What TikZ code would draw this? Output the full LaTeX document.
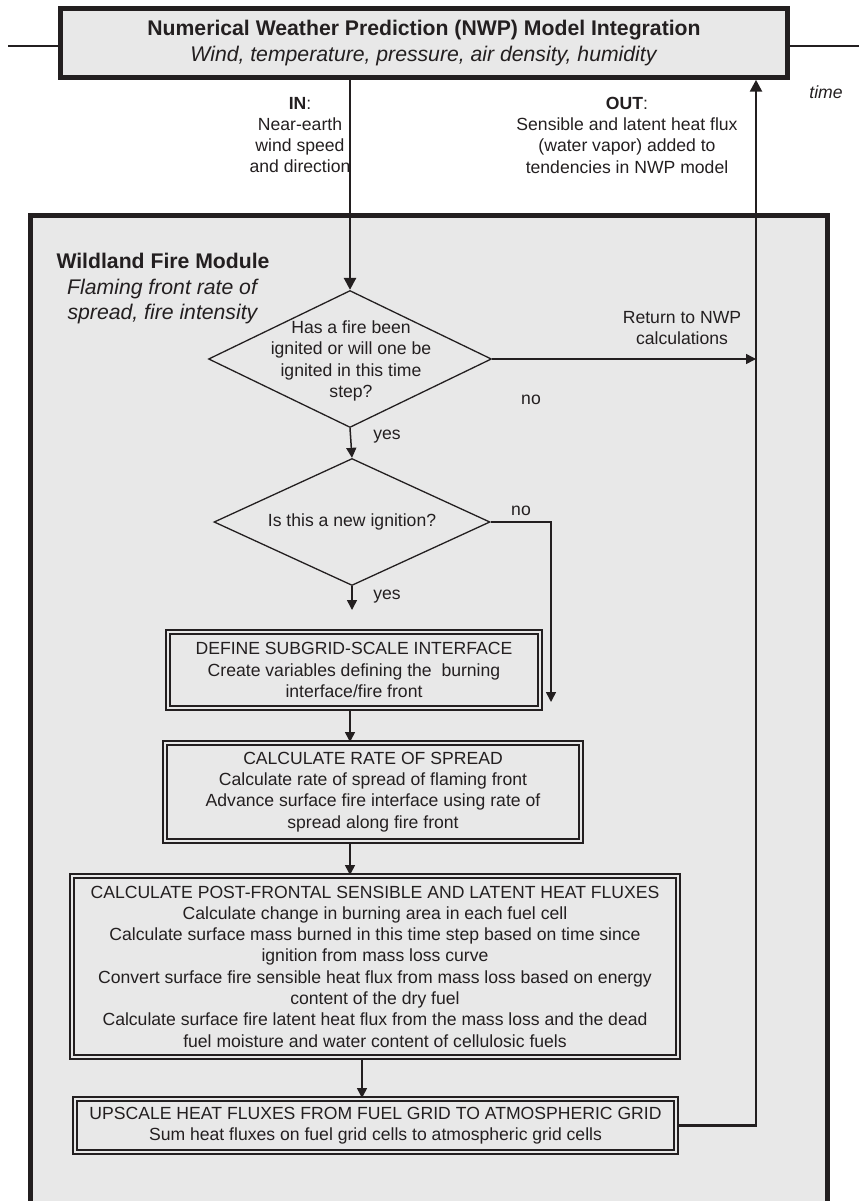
\documentclass[tikz,border=0pt]{standalone}
\usepackage{fontspec}
\setmainfont{Liberation Sans}
\usepackage{tikz}
\usetikzlibrary{calc}
\usetikzlibrary{arrows.meta}
\usetikzlibrary{shapes.geometric}

\definecolor{inkline}{HTML}{231F20}
\definecolor{panelgray}{HTML}{E8E8E8}

\newcommand{\bodyfont}{\fontsize{17.6}{21.3}\selectfont}
\newcommand{\headfont}{\fontsize{21.2}{25.5}\selectfont}

\begin{document}
\begin{tikzpicture}[x=1pt, y=-1pt,
		every node/.style={text=inkline, font=\bodyfont},
		lbl/.style={align=center, inner sep=0pt},
		flowbox/.style={draw=inkline, double=panelgray, double distance=1.7pt, line width=2pt, align=center, inner sep=0pt},
		decision/.style={diamond, draw=inkline, line width=1.3pt, inner sep=0pt},
		thinflow/.style={draw=inkline, line width=1.5pt, -{Triangle[length=10pt, width=10pt]}},
		thickflow/.style={draw=inkline, line width=2.6pt, -{Triangle[length=12pt, width=12pt]}}]
			\useasboundingbox (0,0) rectangle (859,1201);

			\fill[panelgray] (30.5,215.5) rectangle (827.5,1201);
			\draw[inkline, line width=5pt] (30.5,1201)--(30.5,215.5)--(827.5,215.5)--(827.5,1201);

			\node[draw=inkline, fill=panelgray, line width=4.5pt, minimum width=727pt, minimum height=69pt, lbl, font=\headfont] (nwp) at (424,43) {\textbf{Numerical Weather Prediction (NWP) Model Integration}\\\textit{Wind, temperature, pressure, air density, humidity}};
			\coordinate (timeleft) at (8,46);
			\coordinate (timeright) at (859,46);
			\draw[inkline, line width=2.5pt] (timeleft)--(timeleft -| nwp.west);
			\draw[inkline, line width=2.5pt] (nwp.east |- timeright)--(timeright);
			\node[lbl, font=\bodyfont\itshape] (timelbl) at (826,92) {time};

			\node[lbl] (inlbl) at (300,135) {\textbf{IN}:\\Near-earth\\wind speed\\and direction};
			\node[lbl] (outlbl) at (627,135) {\textbf{OUT}:\\Sensible and latent heat flux\\(water vapor) added to\\tendencies in NWP model};

			\node[lbl, font=\headfont] (wfm) at (163,289) {\textbf{Wildland Fire Module}\\\textit{Flaming front rate of}\\\textit{spread, fire intensity}};

			\node[decision, minimum width=283pt, minimum height=137pt] (ask) at (350,359) {};
			\node[lbl] (asktxt) at (351,361) {Has a fire been\\ignited or will one be\\ignited in this time\\step?};
			\node[decision, aspect=2.17, minimum width=276pt, minimum height=127pt] (newig) at (352,522) {Is this a new ignition?};

			\node[flowbox, minimum width=372pt, minimum height=76pt] (define) at (354,670) {DEFINE SUBGRID-SCALE INTERFACE\\Create variables defining the\ \ burning\\interface/fire front};
			\node[flowbox, minimum width=416pt, minimum height=98pt] (rate) at (373,792) {CALCULATE RATE OF SPREAD\\Calculate rate of spread of flaming front\\Advance surface fire interface using rate of\\spread along fire front};
			\node[flowbox, minimum width=606pt, minimum height=181pt] (flux) at (375,966.5) {CALCULATE POST-FRONTAL SENSIBLE AND LATENT HEAT FLUXES\\Calculate change in burning area in each fuel cell\\Calculate surface mass burned in this time step based on time since\\ignition from mass loss curve\\Convert surface fire sensible heat flux from mass loss based on energy\\content of the dry fuel\\Calculate surface fire latent heat flux from the mass loss and the dead\\fuel moisture and water content of cellulosic fuels};
			\node[flowbox, minimum width=601pt, minimum height=53pt] (up) at (375.5,1125.5) {UPSCALE HEAT FLUXES FROM FUEL GRID TO ATMOSPHERIC GRID\\Sum heat fluxes on fuel grid cells to atmospheric grid cells};

			\coordinate (outx) at (756,1127);
			\coordinate (deftop) at (352,610);
			\coordinate (noend) at (551,702);
			\coordinate (fluxaxis) at (362,0);

			\draw[thickflow] (nwp.south -| ask.north)--(ask.north);
			\draw[thickflow] (up.east) -| (nwp.south -| outx);
			\draw[thinflow] (ask.east)--(ask.east -| outx);
			\draw[thinflow] (ask.south)--(newig.north);
			\draw[thinflow] (newig.south)--(deftop);
			\draw[thinflow] (newig.east) -| (noend);
			\draw[thinflow] (define.south -| ask.south)--(rate.north -| ask.south);
			\draw[thinflow] (rate.south -| ask.south)--(flux.north -| ask.south);
			\draw[thinflow] (flux.south -| fluxaxis)--(up.north -| fluxaxis);

			\node[lbl] (returnlbl) at (682,328) {Return to NWP\\calculations};
			\node[lbl] (nofirst) at (531,400) {no};
			\node[lbl] (yesfirst) at (387,437) {yes};
			\node[lbl] (nosecond) at (521,511) {no};
			\node[lbl] (yessecond) at (387,597) {yes};
		\end{tikzpicture}
\end{document}
